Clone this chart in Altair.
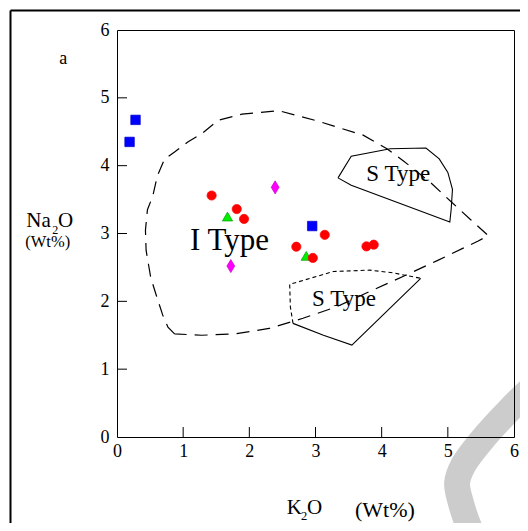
import altair as alt
import pandas as pd

FONT = "Liberation Serif"

# ---- sample points (K2O, Na2O) ----
sq_x = [0.28, 0.19, 2.95]
sq_y = [4.675, 4.35, 3.11]
tri_x = [1.67, 2.86]
tri_y = [3.25, 2.67]
dia_x = [2.39, 1.72]
dia_y = [3.68, 2.52]
circ_x = [1.43, 1.81, 1.92, 2.71, 2.96, 3.14, 3.77, 3.88]
circ_y = [3.56, 3.36, 3.215, 2.805, 2.64, 2.98, 2.81, 2.835]

# ---- I-type field (dashed) ----
i_x = [0.87, 0.77, 0.69, 0.59, 0.51, 0.44, 0.43, 0.46, 0.54, 0.61, 0.72, 0.87, 1.07, 1.28,
       1.53, 1.89, 2.45, 3.06, 3.72, 4.08, 4.33, 4.74, 5.07, 5.35, 5.61, 5.46, 4.84, 4.33,
       3.83, 3.32, 2.81, 2.30, 1.79, 1.28, 0.87]
i_y = [1.52, 1.62, 1.80, 2.10, 2.35, 2.75, 3.05, 3.35, 3.55, 3.85, 4.10, 4.20, 4.35, 4.47,
       4.67, 4.76, 4.81, 4.65, 4.45, 4.25, 4.07, 3.75, 3.45, 3.20, 2.97, 2.89, 2.60, 2.37,
       2.15, 1.92, 1.75, 1.60, 1.52, 1.50, 1.52]

# ---- upper S-type field (solid) ----
s1_x = [3.34, 3.54, 4.13, 4.67, 4.87, 5.00, 5.07, 5.05, 5.03, 3.54, 3.34]
s1_y = [3.82, 4.14, 4.25, 4.26, 4.10, 3.90, 3.65, 3.35, 3.17, 3.71, 3.82]

# ---- lower S-type field: fine-dashed part and solid part ----
s2d_x = [2.66, 2.62, 2.61, 3.27, 3.82, 4.17, 4.59]
s2d_y = [1.675, 1.92, 2.25, 2.44, 2.46, 2.42, 2.34]
s2s_x = [4.59, 3.55, 3.12, 2.66]
s2s_y = [2.34, 1.355, 1.50, 1.675]

# ---- watermark stroke ----
wm_x = [6.31, 5.94, 5.51, 5.23, 5.14, 5.20, 5.35, 5.48]
wm_y = [0.76, 0.41, -0.05, -0.42, -0.68, -0.98, -1.39, -1.60]

tick_vals = [0, 1, 2, 3, 4, 5, 6]
inner_ticks = [1, 2, 3, 4, 5]

W, H = 397, 407


def path_df(xs, ys):
    return pd.DataFrame({"x": xs, "y": ys, "o": range(len(xs))})


xs = alt.Scale(domain=[0, 6], nice=False, zero=False)
ys = alt.Scale(domain=[0, 6], nice=False, zero=False)

X = alt.X("x:Q", scale=xs,
          axis=alt.Axis(values=tick_vals, ticks=False, domain=False, grid=False, title=None,
                        labelFont=FONT, labelFontSize=18, labelColor="black",
                        labelPadding=5, labelFlush=False, format="d"))
Y = alt.Y("y:Q", scale=ys,
          axis=alt.Axis(values=tick_vals, ticks=False, domain=False, grid=False, title=None,
                        labelFont=FONT, labelFontSize=18, labelColor="black",
                        labelPadding=8, labelFlush=False, format="d"))
Xn = alt.X("x:Q", scale=xs)
Yn = alt.Y("y:Q", scale=ys)

i_line = alt.Chart(path_df(i_x, i_y)).mark_line(
    color="black", strokeWidth=1.2, strokeDash=[13, 8], clip=False
).encode(x=X, y=Y, order="o:Q")

s1_line = alt.Chart(path_df(s1_x, s1_y)).mark_line(
    color="black", strokeWidth=1.1, clip=False
).encode(x=Xn, y=Yn, order="o:Q")

s2d_line = alt.Chart(path_df(s2d_x, s2d_y)).mark_line(
    color="black", strokeWidth=1.1, strokeDash=[4, 3], clip=False
).encode(x=Xn, y=Yn, order="o:Q")

s2s_line = alt.Chart(path_df(s2s_x, s2s_y)).mark_line(
    color="black", strokeWidth=1.1, clip=False
).encode(x=Xn, y=Yn, order="o:Q")

# inward tick marks
xt = alt.Chart(pd.DataFrame({"x": inner_ticks})).mark_rule(color="black", strokeWidth=1).encode(
    x=Xn, y=alt.value(H), y2=alt.value(H - 10))
yt = alt.Chart(pd.DataFrame({"y": inner_ticks})).mark_rule(color="black", strokeWidth=1).encode(
    y=Yn, x=alt.value(0), x2=alt.value(10))

# field labels
field_lbl = pd.DataFrame({
    "x": [1.70, 4.25, 3.43],
    "y": [2.75, 3.77, 1.93],
    "t": ["I Type", "S Type", "S Type"],
    "fs": [31, 23, 23],
})
field_text = alt.Chart(field_lbl).mark_text(
    font=FONT, color="black", align="center", baseline="alphabetic"
).encode(x=Xn, y=Yn, text="t:N", size=alt.Size("fs:Q", scale=None))


# symbols, one layer per sample group
def sym(xv, yv, shape, color, size, stroke):
    return alt.Chart(path_df(xv, yv)).mark_point(
        filled=True, opacity=1, shape=shape, color=color, size=size,
        stroke=stroke, strokeWidth=0.7
    ).encode(x=Xn, y=Yn)


squares = sym(sq_x, sq_y, "square", "#0000ff", 90, "#0000cc")
triangles = sym(tri_x, tri_y, "triangle-up", "#00ee00", 105, "#00a000")
diamonds = sym(dia_x, dia_y, "M0,-1L0.6,0L0,1L-0.6,0Z", "#ff00ff", 170, "#cc00cc")
circles = sym(circ_x, circ_y, "circle", "#ff0000", 85, "#ff0000")

# axis titles and panel letter (pixel placed annotation pieces)
ann = pd.DataFrame({
    "t": ["a", "Na", "2", "O", "(Wt%)", "K", "2", "O", "(Wt%)"],
    "px": [-57.7, -90.7, -64.8, -59.0, -91.7, 169.7, 184.0, 190.0, 238.0],
    "py": [34.3, 196.9, 203.7, 196.9, 217.0, 483.5, 490.0, 483.5, 486.5],
    "fs": [18, 21, 12, 21, 16.5, 21, 12.5, 21, 22],
})
ann_text = alt.Chart(ann).mark_text(
    font=FONT, color="black", align="left", baseline="alphabetic"
).encode(
    x=alt.X("px:Q", scale=None), y=alt.Y("py:Q", scale=None),
    text="t:N", size=alt.Size("fs:Q", scale=None),
)

# outer frame
one = pd.DataFrame({"k": [0]})
frame_l = alt.Chart(one).mark_rule(color="black", strokeWidth=2).encode(
    x=alt.value(-106.5), y=alt.value(-19.5), y2=alt.value(520))
frame_t = alt.Chart(one).mark_rule(color="black", strokeWidth=2).encode(
    x=alt.value(-106.5), x2=alt.value(420), y=alt.value(-19.5))

# watermark
wm = alt.Chart(path_df(wm_x, wm_y)).mark_line(
    color="black", opacity=0.2, strokeWidth=26, strokeCap="butt",
    interpolate="catmull-rom", clip=False
).encode(x=Xn, y=Yn, order="o:Q")

chart = alt.layer(
    i_line, s1_line, s2d_line, s2s_line, xt, yt, field_text,
    squares, triangles, diamonds, circles,
    ann_text, frame_l, frame_t, wm
).properties(
    width=W, height=H,
    autosize=alt.AutoSizeParams(type="none"),
    padding={"left": 109, "top": 22, "right": 6, "bottom": 86},
    background="white",
).configure_view(stroke="black", strokeWidth=1)

chart.save("out.html", embed_options={"renderer": "svg", "actions": False})
